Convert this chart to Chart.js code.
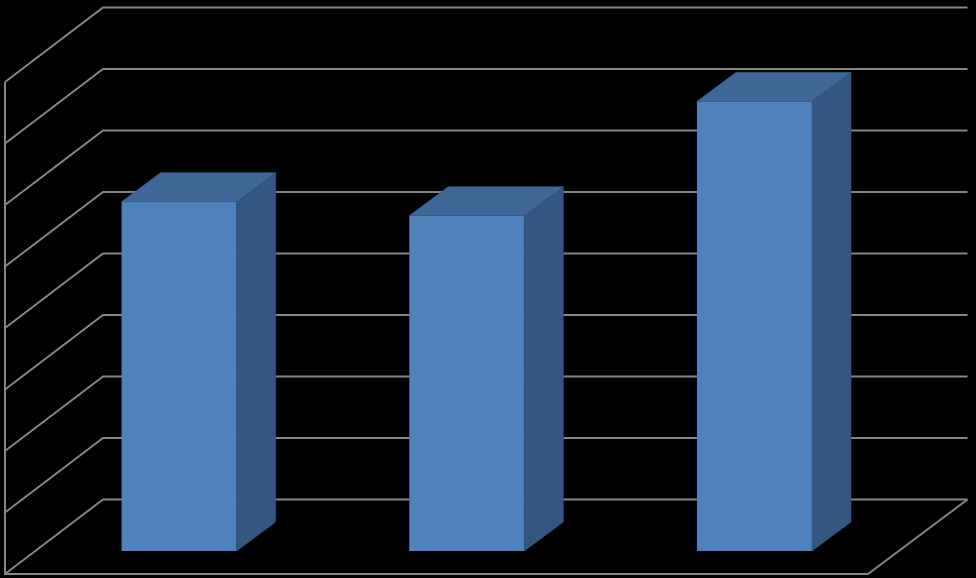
<!DOCTYPE html>
<html>
<head>
<meta charset="utf-8">
<style>html,body{margin:0;padding:0;background:#000}canvas{display:block}</style>
<script src="https://cdn.jsdelivr.net/npm/chart.js@4"></script>
</head>
<body>
<canvas id="c" width="976" height="578"></canvas>
<script>
const categories = ["", " ", "  "];
const values = [5.68, 5.45, 7.31];
const axisMin = 0;
const axisMax = 8;
const axisStep = 1;

const frontOffset = {x: -30.3, y: 23};
const backOffset = {x: 67.7, y: -51.5};
const backRightExtra = 1.5;
const barDepth = {x: 39, y: -29};
const gridColor = "#868686";
const faceColor = "#4f81bd";
const topColor = "#3f6797";
const sideColor = "#335780";

function poly(ctx, pts, fill) {
  ctx.beginPath();
  pts.forEach((p, i) => i ? ctx.lineTo(p[0], p[1]) : ctx.moveTo(p[0], p[1]));
  ctx.closePath();
  ctx.fillStyle = fill;
  ctx.strokeStyle = fill;
  ctx.lineWidth = 0.6;
  ctx.fill();
  ctx.stroke();
}

const wall3d = {
  id: "wall3d",
  beforeDatasetsDraw(chart) {
    const {ctx, scales: {y}, chartArea: a} = chart;
    const l = a.left, r = a.right;
    ctx.save();
    ctx.strokeStyle = gridColor;
    ctx.lineWidth = 2;
    y.ticks.forEach(t => {
      const py = y.getPixelForValue(t.value);
      ctx.beginPath();
      ctx.moveTo(l + frontOffset.x, py + frontOffset.y);
      ctx.lineTo(l + backOffset.x, py + backOffset.y);
      ctx.lineTo(r + backOffset.x + backRightExtra, py + backOffset.y);
      ctx.stroke();
    });
    const y0 = y.getPixelForValue(axisMin), yT = y.getPixelForValue(axisMax);
    ctx.beginPath();
    ctx.moveTo(l + frontOffset.x, yT + frontOffset.y);
    ctx.lineTo(l + frontOffset.x, y0 + frontOffset.y);
    ctx.lineTo(r + frontOffset.x, y0 + frontOffset.y);
    ctx.lineTo(r + backOffset.x + backRightExtra, y0 + backOffset.y);
    ctx.stroke();
    ctx.restore();
  },
  afterDatasetsDraw(chart) {
    const {ctx} = chart;
    const d = barDepth;
    chart.getDatasetMeta(0).data.forEach(b => {
      const h = b.getProps(["x", "y", "base", "width"], true);
      const x0 = h.x - h.width / 2, x1 = h.x + h.width / 2;
      poly(ctx, [[x0, h.y], [x1, h.y], [x1 + d.x, h.y + d.y], [x0 + d.x, h.y + d.y]], topColor);
      poly(ctx, [[x1, h.y], [x1 + d.x, h.y + d.y], [x1 + d.x, h.base + d.y], [x1, h.base]], sideColor);
    });
  }
};

new Chart(document.getElementById("c"), {
  type: "bar",
  data: {
    labels: categories,
    datasets: [{data: values, backgroundColor: faceColor, borderWidth: 0, categoryPercentage: 1, barPercentage: 0.4}]
  },
  options: {
    responsive: false,
    animation: false,
    devicePixelRatio: 1,
    layout: {padding: {left: 35.3, right: 77.7, top: 59, bottom: 27}},
    plugins: {legend: {display: false}, tooltip: {enabled: false}, title: {display: false}},
    scales: {
      x: {display: false},
      y: {display: false, min: axisMin, max: axisMax, ticks: {stepSize: axisStep}}
    }
  },
  plugins: [wall3d]
});
</script>
</body>
</html>
